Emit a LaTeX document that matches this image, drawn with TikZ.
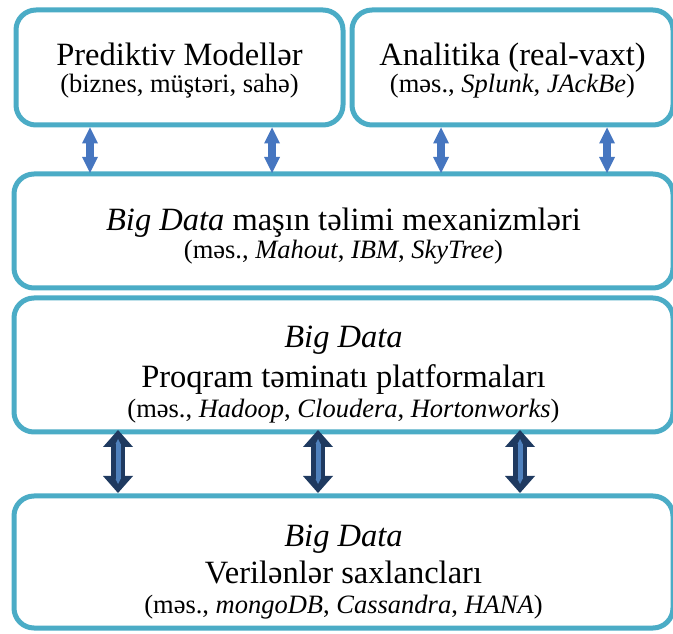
\documentclass[tikz,border=0pt]{standalone}
\usepackage{fontspec}
\setmainfont{Liberation Serif}
\usetikzlibrary{arrows.meta, positioning}

\definecolor{boxline}{HTML}{4BACC6}
\definecolor{thinblue}{HTML}{4676C0}
\definecolor{darknavy}{HTML}{1F3A60}
\definecolor{darkfill}{HTML}{4F81BD}

\newcommand{\subtxt}{\fontsize{26.5}{31}\selectfont}
\newcommand{\padtop}[1]{\rule{0pt}{#1}}

\begin{document}
\begin{tikzpicture}[x=1pt, y=1pt,
	box/.style={draw=boxline, line width=5pt, rounded corners=20pt, fill=white, align=center, inner sep=0pt, outer sep=0pt, font=\fontsize{32.5}{31}\selectfont},
	thinarrow/.style={draw=thinblue, line width=8pt, shorten <=2.5pt, shorten >=1pt, {Triangle[width=16pt,length=16pt,line width=0pt]}-{Triangle[width=16pt,length=16pt,line width=0pt]}},
	thickarrow/.style={draw=darknavy, line width=14pt, shorten <=-2pt, shorten >=3pt, {Triangle[width=30pt,length=17pt,line width=0pt]}-{Triangle[width=30pt,length=17pt,line width=0pt]}},
	thickinner/.style={draw=darkfill, line width=5pt, shorten <=7pt, shorten >=12pt, {Triangle[width=5pt,length=5pt,line width=0pt]}-{Triangle[width=5pt,length=5pt,line width=0pt]}}]
		\useasboundingbox (0,0) rectangle (673,633);
		
		\node[box, minimum width=327pt, minimum height=115pt] (predict) at (179.5,565.5) {\padtop{28pt}Prediktiv Modellər\\[-4pt]{\subtxt (biznes, müştəri, sahə)}};
		\node[box, minimum width=321pt, minimum height=115pt, right = 9pt of predict] (analytics) {\padtop{28pt}Analitika (real-vaxt)\\[-4pt]{\subtxt (məs., \textit{Splunk}, \textit{JAckBe})}};
		\node[box, minimum width=659pt, minimum height=114pt, below = 49pt of predict.south west, anchor=north west, xshift=-2pt] (learning) {\padtop{32pt}\textit{Big Data} maşın təlimi mexanizmləri\\[-3pt]{\subtxt (məs., \textit{Mahout}, \textit{IBM}, \textit{SkyTree})}};
		\node[box, minimum width=659pt, minimum height=134pt, below = 10pt of learning] (platform) {\padtop{40pt}\textit{Big Data}\\[9pt]Proqram təminatı platformaları\\[-1pt]{\subtxt (məs., \textit{Hadoop}, \textit{Cloudera}, \textit{Hortonworks})}};
		\node[box, minimum width=659pt, minimum height=132pt, below = 64pt of platform] (storage) {\padtop{42pt}\textit{Big Data}\\[6pt]Verilənlər saxlancları\\[-1pt]{\subtxt (məs., \textit{mongoDB}, \textit{Cassandra}, \textit{HANA})}};
		
		\draw[thinarrow] ([xshift=-89.5pt]predict.south) to ([xshift=-89.5pt]predict.south |- learning.north);
		\draw[thinarrow] ([xshift=92.5pt]predict.south) to ([xshift=92.5pt]predict.south |- learning.north);
		\draw[thinarrow] ([xshift=-71.5pt]analytics.south) to ([xshift=-71.5pt]analytics.south |- learning.north);
		\draw[thinarrow] ([xshift=94.5pt]analytics.south) to ([xshift=94.5pt]analytics.south |- learning.north);
		
		\draw[thickarrow] ([xshift=-225.5pt]platform.south) to ([xshift=-225.5pt]platform.south |- storage.north);
		\draw[thickinner] ([xshift=-225.5pt]platform.south) to ([xshift=-225.5pt]platform.south |- storage.north);
		\draw[thickarrow] ([xshift=-25.5pt]platform.south) to ([xshift=-25.5pt]platform.south |- storage.north);
		\draw[thickinner] ([xshift=-25.5pt]platform.south) to ([xshift=-25.5pt]platform.south |- storage.north);
		\draw[thickarrow] ([xshift=176.5pt]platform.south) to ([xshift=176.5pt]platform.south |- storage.north);
		\draw[thickinner] ([xshift=176.5pt]platform.south) to ([xshift=176.5pt]platform.south |- storage.north);
		
\end{tikzpicture}
\end{document}
